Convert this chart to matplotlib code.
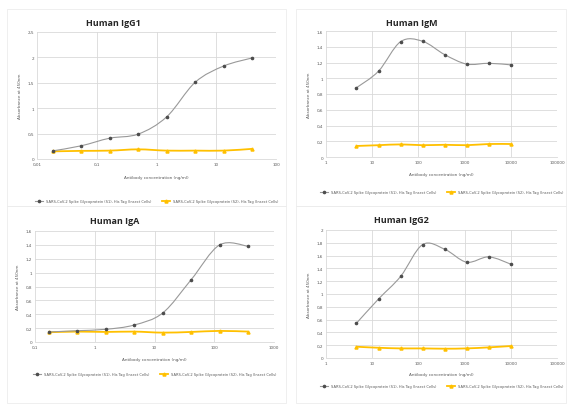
import numpy as np
import matplotlib
matplotlib.use("Agg")
import matplotlib.pyplot as plt
from matplotlib.path import Path
from matplotlib.patches import PathPatch, Rectangle

W, H = 568, 406

# antibody concentrations (ng/ml), 3-fold dilutions
conc_igg1 = [0.0183, 0.0549, 0.165, 0.494, 1.48, 4.44, 13.3, 40]
conc_igm = [4.57, 13.7, 41.2, 123, 370, 1111, 3333, 10000]
conc_iga = [0.169, 0.508, 1.52, 4.57, 13.7, 41.2, 123, 370]
conc_igg2 = [4.57, 13.7, 41.2, 123, 370, 1111, 3333, 10000]

# absorbance, S1 and S2
igg1_s1 = [0.16, 0.26, 0.41, 0.49, 0.83, 1.51, 1.83, 1.99]
igg1_s2 = [0.15, 0.16, 0.165, 0.19, 0.165, 0.165, 0.165, 0.20]
igm_s1 = [0.88, 1.09, 1.465, 1.47, 1.30, 1.18, 1.19, 1.17]
igm_s2 = [0.14, 0.15, 0.16, 0.15, 0.155, 0.15, 0.165, 0.165]
iga_s1 = [0.144, 0.163, 0.183, 0.245, 0.418, 0.90, 1.40, 1.38]
iga_s2 = [0.14, 0.15, 0.145, 0.15, 0.135, 0.145, 0.16, 0.15]
igg2_s1 = [0.544, 0.922, 1.275, 1.772, 1.70, 1.497, 1.58, 1.466]
igg2_s2 = [0.176, 0.16, 0.15, 0.15, 0.145, 0.15, 0.166, 0.187]

s1_label = "SARS-CoV-2 Spike Glycoprotein (S1), His Tag (Insect Cells)"
s2_label = "SARS-CoV-2 Spike Glycoprotein (S2), His Tag (Insect Cells)"

gray_line = "#999999"
gray_mark = "#4d4d4d"
yellow = "#ffc000"
grid_c = "#d9d9d9"
text_c = "#595959"


def px_axes(fig, left, top, right, bottom):
    return fig.add_axes([left / W, 1 - bottom / H, (right - left) / W, (bottom - top) / H])


def smooth_path(xs, ys):
    # Catmull-Rom style smoothing (like Excel "smoothed line") in log-x space
    lx = np.log10(xs)
    p = np.column_stack([lx, ys])
    verts = [p[0]]
    codes = [Path.MOVETO]
    n = len(p)
    for i in range(n - 1):
        p0 = p[i - 1] if i > 0 else p[i]
        p3 = p[i + 2] if i + 2 < n else p[i + 1]
        c1 = p[i] + (p[i + 1] - p0) / 6
        c2 = p[i + 1] - (p3 - p[i]) / 6
        verts += [c1, c2, p[i + 1]]
        codes += [Path.CURVE4] * 3
    verts = np.array(verts)
    verts[:, 0] = 10 ** verts[:, 0]
    return Path(verts, codes)


def comma(v):
    return ("%g" % v).replace(".", ",")


def panel(fig, box, title, title_xy, xlab_y, leg_y, xs, s1, s2, xlim, ymax, ystep):
    ax = px_axes(fig, *box)
    ax.set_xscale("log")
    ax.set_xlim(*xlim)
    ax.set_ylim(0, ymax)
    yt = np.round(np.arange(0, ymax + 1e-9, ystep), 2)
    ax.set_yticks(yt)
    ax.set_yticklabels([comma(v) for v in yt])
    xt = [10.0 ** k for k in range(int(np.log10(xlim[0])), int(np.log10(xlim[1])) + 1)]
    ax.set_xticks(xt)
    ax.set_xticklabels([comma(v) for v in xt])
    ax.minorticks_off()
    ax.grid(True, color=grid_c, lw=0.6)
    ax.set_axisbelow(True)
    for side in ["top", "right", "left"]:
        ax.spines[side].set_visible(False)
    ax.spines["bottom"].set_color(grid_c)
    ax.spines["bottom"].set_linewidth(0.6)
    ax.tick_params(length=0, labelsize=3, colors=text_c, pad=2)

    ax.add_patch(PathPatch(smooth_path(xs, s2), fill=False, ec=yellow, lw=1.3, zorder=3))
    ax.add_patch(PathPatch(smooth_path(xs, s1), fill=False, ec=gray_line, lw=0.8, zorder=4))
    ax.plot(xs, s2, ls="none", marker="^", ms=2.2, color=yellow, zorder=5)
    ax.plot(xs, s1, ls="none", marker="o", ms=1.6, color=gray_mark, zorder=5)

    h1, = ax.plot([], [], color=gray_line, lw=0.8, marker="o", ms=1.6, mfc=gray_mark, mec=gray_mark)
    h2, = ax.plot([], [], color=yellow, lw=1.3, marker="^", ms=2.2)
    cx = (box[0] + box[2]) / 2
    ax.legend([h1, h2], [s1_label, s2_label], ncol=2, frameon=False, fontsize=2.6,
              loc="center", bbox_to_anchor=(cx / W, 1 - leg_y / H),
              bbox_transform=fig.transFigure, handlelength=2.2, columnspacing=3,
              labelcolor=text_c)

    fig.text(title_xy[0] / W, 1 - title_xy[1] / H, title, ha="center", va="center",
             fontsize=6.5, fontweight="bold", color="#262626", family="Open Sans")
    fig.text(cx / W, 1 - xlab_y / H, "Antibody concentration (ng/ml)", ha="center",
             va="center", fontsize=3, color=text_c)
    fig.text((box[0] - 17) / W, 1 - ((box[1] + box[3]) / 2) / H, "Absorbance at 450nm",
             rotation=90, ha="center", va="center", fontsize=3, color=text_c)
    return ax


fig = plt.figure(figsize=(W / 100, H / 100), dpi=100)
fig.patch.set_facecolor("white")

# chart frames
for (l, t, r, b) in [(7, 10, 286, 207), (296, 10, 566, 207), (7, 207, 286, 404), (296, 207, 566, 404)]:
    fig.patches.append(Rectangle((l / W, 1 - b / H), (r - l) / W, (b - t) / H,
                                 transform=fig.transFigure, fill=False, ec="#ececec", lw=0.6))

panel(fig, (37, 33, 276, 160), "Human IgG1", (113, 23), 178, 202,
      conc_igg1, igg1_s1, igg1_s2, (0.01, 100), 2.5, 0.5)
panel(fig, (326, 32, 557, 158), "Human IgM", (412, 23), 175, 193,
      conc_igm, igm_s1, igm_s2, (1, 100000), 1.6, 0.2)
panel(fig, (35, 232, 274, 343), "Human IgA", (115, 222), 360, 375,
      conc_iga, iga_s1, iga_s2, (0.1, 1000), 1.6, 0.2)
panel(fig, (326, 231, 557, 359), "Human IgG2", (401, 221), 375, 387,
      conc_igg2, igg2_s1, igg2_s2, (1, 100000), 2.0, 0.2)

fig.savefig("out.png", dpi=100)
